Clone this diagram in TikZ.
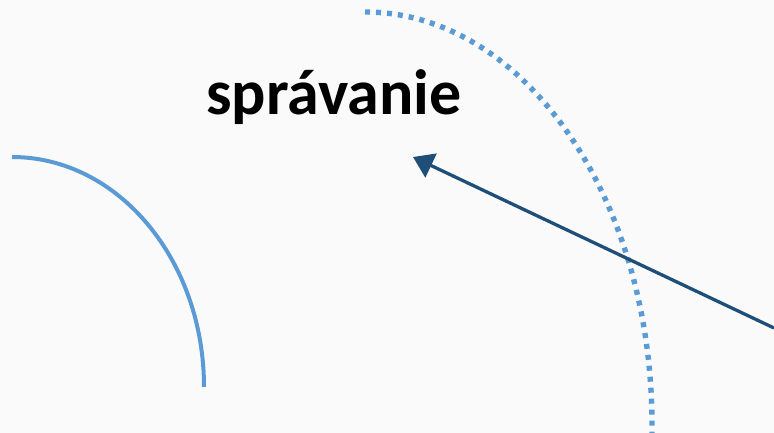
\documentclass[tikz,border=0pt]{standalone}
\usepackage{fontspec}
\setmainfont{Carlito}
\usetikzlibrary{arrows.meta}
\definecolor{lightblue}{HTML}{5B9BD5}
\definecolor{darkblue}{HTML}{1F4E79}
\definecolor{bg}{HTML}{FAFAFA}
\tikzset{
  solidarc/.style={draw=lightblue, line width=4pt},
  dotarc/.style={draw=lightblue, line width=5.4pt, dash pattern=on 5pt off 6pt},
  arrowline/.style={draw=darkblue, line width=3.3pt, -{Triangle[length=20pt,width=26pt]}},
  label/.style={font=\bfseries\fontsize{64}{72}\selectfont, inner sep=0pt}
}
\begin{document}
\begin{tikzpicture}[x=1pt,y=-1pt]
\fill[bg] (0,0) rectangle (774,433);
\useasboundingbox (0,0) rectangle (774,433);
\node[label, anchor=base west] (t) at (206,115) {správanie};
\coordinate (a1) at (12,157);
\draw[solidarc] (a1) arc[start angle=270, end angle=360, x radius=192, y radius=230];
\coordinate (d1) at (365,12);
\draw[dotarc] (d1) arc[start angle=270, end angle=360, x radius=287, y radius=413] -- ++(0,10);
\coordinate (s) at (774,328);
\coordinate (e) at (413,157);
\draw[arrowline] (s) -- (e);
\end{tikzpicture}
\end{document}
